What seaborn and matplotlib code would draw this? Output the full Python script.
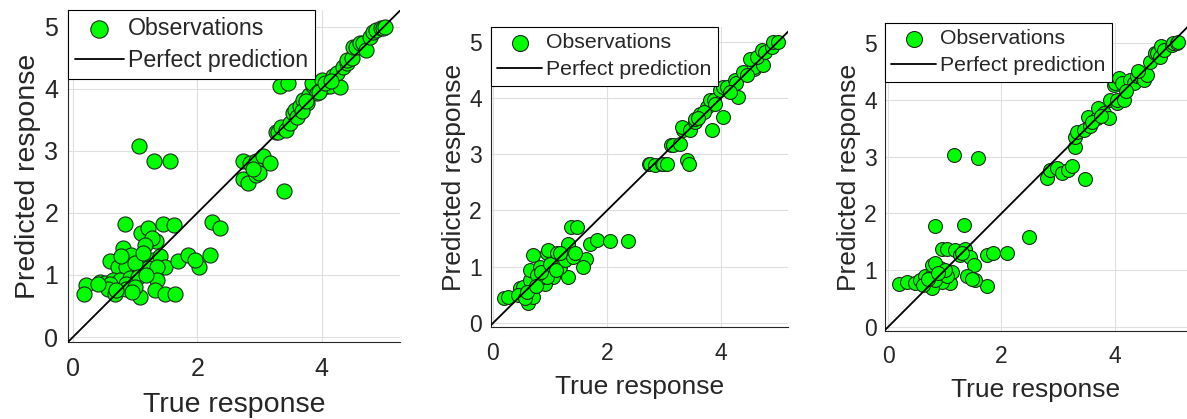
import matplotlib
matplotlib.use("Agg")
import matplotlib.pyplot as plt
import seaborn as sns
import pandas as pd

# ---------------- data ----------------
true1 = [1.07, 1.31, 1.56, 0.83, 1.10, 1.20, 1.44, 1.62, 1.34, 1.27, 2.23, 2.37,
         0.59, 0.81, 0.94, 1.16, 1.29, 1.40, 1.48, 1.69, 1.85, 2.03, 2.20, 1.96,
         0.73, 0.86, 1.08, 1.21, 1.35, 0.78, 1.00, 1.12,
         0.43, 0.51, 0.65, 0.75, 0.92, 1.05, 1.35, 0.60, 0.85,
         0.21, 0.17, 0.57, 0.68, 0.86, 1.08, 1.32, 1.48, 1.64, 1.00, 1.18, 0.70, 0.95, 0.40,
         2.73, 2.85, 2.95, 3.06, 3.17, 2.73, 2.82, 2.95, 3.00, 2.90, 3.39,
         3.33, 3.46,
         3.27, 3.30, 3.35, 3.43, 3.49, 3.54, 3.57, 3.65, 3.70, 3.76, 3.80, 3.86, 3.84,
         3.92, 3.97, 4.00, 4.08, 4.13, 4.19, 4.29, 4.25, 4.35, 4.40, 4.40, 4.48, 4.51,
         4.56, 4.62, 4.67, 4.72, 4.78, 4.83, 4.88, 4.96, 4.99, 5.02, 3.60, 3.68, 3.75,
         3.95, 4.05, 4.15]
pred1 = [3.08, 2.83, 2.84, 1.82, 1.67, 1.75, 1.82, 1.81, 1.54, 1.60, 1.86, 1.75,
         1.22, 1.43, 1.32, 1.48, 1.24, 1.30, 1.13, 1.22, 1.32, 1.13, 1.32, 1.24,
         1.13, 1.13, 1.13, 1.11, 1.13, 1.30, 1.20, 1.35,
         0.89, 0.87, 0.92, 0.92, 0.95, 0.97, 0.92, 0.85, 0.85,
         0.84, 0.70, 0.78, 0.70, 0.78, 0.65, 0.75, 0.70, 0.69, 0.81, 1.00, 0.75, 0.72, 0.85,
         2.83, 2.80, 2.83, 2.91, 2.80, 2.54, 2.48, 2.61, 2.64, 2.70, 2.36,
         4.05, 4.09,
         3.31, 3.31, 3.39, 3.34, 3.45, 3.61, 3.66, 3.72, 3.82, 3.77, 3.90, 4.05, 4.09,
         3.93, 3.98, 4.15, 4.04, 4.04, 4.20, 4.03, 4.25, 4.35, 4.41, 4.47, 4.49, 4.68,
         4.68, 4.74, 4.74, 4.63, 4.84, 4.92, 4.95, 4.98, 4.98, 5.00, 3.55, 3.65, 3.80,
         3.95, 4.10, 4.12]

true2 = [0.19, 0.27, 0.47, 0.53, 0.62, 0.71, 0.68, 0.71, 0.94, 0.97, 1.12, 1.32,
         1.36, 1.48, 1.70, 1.82, 2.05, 2.37, 1.64, 1.58, 1.32, 1.18, 1.06, 0.91,
         0.79, 0.65, 0.65, 0.82, 0.94, 1.26, 1.41, 1.44, 0.44, 0.56, 0.77, 1.18,
         0.85, 1.00, 0.60, 1.10, 0.75,
         2.73, 2.75, 2.84, 2.96, 2.99, 3.05, 3.40, 3.44, 3.13, 3.16, 3.28, 3.33,
         3.32, 3.46, 3.54, 3.54, 3.63, 3.75, 3.81, 3.87, 3.85, 4.03, 3.98, 4.04,
         4.10, 4.30, 4.25, 4.27, 4.39, 4.57, 4.57, 4.74, 4.51, 4.63, 4.72, 4.77,
         4.89, 4.92, 5.00, 3.70, 3.90, 4.15, 4.45, 3.60]
pred2 = [0.44, 0.47, 0.62, 0.64, 0.35, 0.47, 0.91, 1.21, 1.24, 1.30, 1.24, 1.41,
         1.70, 1.70, 1.41, 1.47, 1.46, 1.46, 1.13, 1.00, 0.81, 1.00, 0.82, 0.70,
         0.76, 0.76, 0.94, 1.00, 0.82, 1.12, 1.18, 1.24, 0.50, 0.44, 0.85, 1.24,
         0.90, 1.05, 0.55, 0.95, 0.65,
         2.83, 2.83, 2.80, 2.83, 2.83, 2.83, 2.89, 2.82, 3.16, 3.16, 3.19, 3.43,
         3.49, 3.43, 3.57, 3.63, 3.72, 3.84, 3.96, 3.96, 3.43, 3.66, 4.14, 4.20,
         4.20, 4.02, 4.31, 4.26, 4.46, 4.52, 4.55, 4.58, 4.70, 4.73, 4.85, 4.82,
         4.91, 4.99, 4.99, 3.75, 3.90, 4.10, 4.40, 3.65]

true3 = [1.16, 1.59, 0.83, 1.34, 2.48, 2.09, 1.74, 1.85, 1.75, 0.20, 0.33, 0.48,
         0.56, 0.65, 0.77, 0.92, 0.77, 0.83, 0.95, 1.04, 1.18, 1.27, 1.36, 1.45,
         1.51, 1.39, 1.54, 1.09, 0.95, 0.77, 0.83, 1.12, 1.04, 0.62, 0.70, 1.00,
         1.30, 1.48, 0.88,
         2.80, 2.86, 2.98, 3.06, 3.18, 3.24, 3.48, 3.30, 3.30, 3.33, 3.45, 3.53,
         3.56, 3.68, 3.71, 3.80, 3.89, 3.92, 4.04, 4.04, 4.16, 3.98, 4.00, 4.07,
         4.12, 4.27, 4.33, 4.39, 4.48, 4.51, 4.56, 4.62, 4.71, 4.74, 4.80, 4.82,
         4.86, 5.00, 5.03, 5.09, 5.12, 3.60, 3.75, 4.20, 4.40]
pred3 = [3.03, 2.97, 1.78, 1.80, 1.59, 1.30, 1.27, 1.31, 0.72, 0.76, 0.80, 0.77,
         0.83, 0.89, 0.92, 1.03, 1.09, 1.12, 1.38, 1.38, 1.36, 1.27, 1.38, 1.24,
         1.09, 0.89, 0.83, 0.77, 0.80, 0.68, 0.83, 0.97, 0.89, 0.74, 0.85, 1.00,
         1.30, 0.85, 0.95,
         2.62, 2.76, 2.79, 2.71, 2.76, 2.83, 2.61, 3.17, 3.35, 3.44, 3.47, 3.70,
         3.53, 3.67, 3.85, 3.76, 3.67, 4.00, 3.94, 4.00, 4.00, 4.26, 4.29, 4.38,
         4.29, 4.35, 4.29, 4.41, 4.38, 4.35, 4.44, 4.67, 4.82, 4.82, 4.76, 4.94,
         4.88, 4.96, 4.99, 4.99, 5.02, 3.60, 3.72, 4.15, 4.50]

x_ticks = [0, 2, 4]
y_ticks = [0, 1, 2, 3, 4, 5]
legend_labels = ["Observations", "Perfect prediction"]
x_label = "True response"
y_label = "Predicted response"

# ---------------- style ----------------
sns.set_style("white")
plt.rcParams["font.family"] = ["Liberation Sans", "DejaVu Sans"]
DARK = "#262626"
GREEN = "#00ff00"

fig = plt.figure(figsize=(11.87, 4.19), dpi=100)

panels = [
    dict(x=true1, y=pred1, rect=[68/1187, 77/419, 332/1187, 332/419],
         xlim=(-0.08, 5.26), ylim=(-0.08, 5.27), tick=18, lab=20.5, leg=16.7,
         s=118, xpad=11, ypad=7, xlp=8),
    dict(x=true2, y=pred2, rect=[491/1187, 92/419, 297/1187, 300/419],
         xlim=(-0.035, 5.175), ylim=(-0.07, 5.26), tick=16.5, lab=19, leg=15.3,
         s=100, xpad=11, ypad=6.5, xlp=7),
    dict(x=true3, y=pred3, rect=[885/1187, 88/419, 302/1187, 308/419],
         xlim=(-0.053, 5.27), ylim=(-0.07, 5.35), tick=16.5, lab=19, leg=15.3,
         s=100, xpad=10, ypad=6, xlp=7),
]

for p in panels:
    ax = fig.add_axes(p["rect"])
    df = pd.DataFrame({"true": p["x"], "pred": p["y"]})
    sns.scatterplot(data=df, x="true", y="pred", ax=ax, s=p["s"], color=GREEN,
                    edgecolor="#1e2a1e", linewidth=0.8, label=legend_labels[0],
                    zorder=3)
    lo = min(p["xlim"][0], p["ylim"][0])
    hi = max(p["xlim"][1], p["ylim"][1])
    line_df = pd.DataFrame({"a": [lo, hi], "b": [lo, hi]})
    sns.lineplot(data=line_df, x="a", y="b", ax=ax, color="black", linewidth=1.3,
                 label=legend_labels[1], zorder=4)
    ax.set_xlim(*p["xlim"])
    ax.set_ylim(*p["ylim"])
    ax.set_xticks(x_ticks)
    ax.set_yticks(y_ticks)
    ax.grid(True, color="#dfdfdf", linewidth=0.8, zorder=0)
    ax.set_axisbelow(True)
    for side in ["top", "right"]:
        ax.spines[side].set_visible(False)
    for side in ["left", "bottom"]:
        ax.spines[side].set_color(DARK)
        ax.spines[side].set_linewidth(0.8)
    ax.tick_params(axis="both", direction="in", length=4, width=0.8, color=DARK,
                   labelcolor=DARK, labelsize=p["tick"])
    ax.tick_params(axis="x", pad=p["xpad"])
    ax.tick_params(axis="y", pad=p["ypad"])
    ax.set_xlabel(x_label, fontsize=p["lab"], color=DARK, labelpad=p["xlp"])
    ax.set_ylabel(y_label, fontsize=p["lab"], color=DARK, labelpad=2)
    leg = ax.legend(loc="upper left", bbox_to_anchor=(0, 1), borderaxespad=0,
                    fontsize=p["leg"], frameon=True, fancybox=False,
                    handlelength=2.1, handletextpad=0.2, borderpad=0.3,
                    labelspacing=0.38, markerscale=1.15)
    leg.get_frame().set_edgecolor("black")
    leg.get_frame().set_linewidth(0.8)
    leg.get_frame().set_alpha(1)
    leg.set_zorder(10)

fig.savefig("out.png", dpi=100)
